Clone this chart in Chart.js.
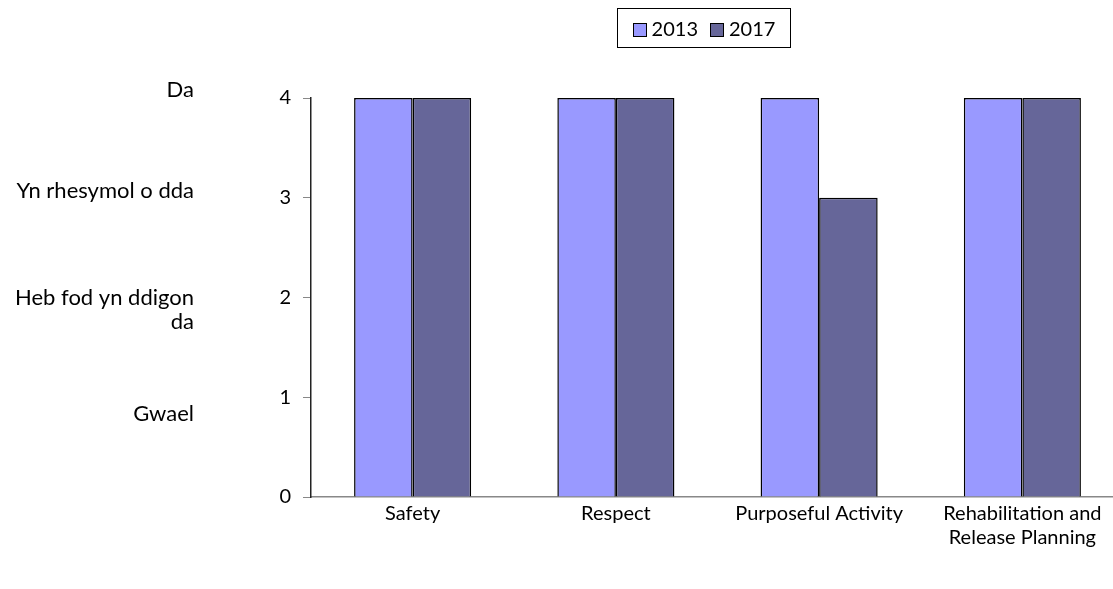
<!DOCTYPE html>
<html>
<head>
<meta charset="utf-8">
<script src="https://cdn.jsdelivr.net/npm/chart.js@4/dist/chart.umd.min.js"></script>
<style>
  body { margin: 0; overflow: hidden; background: #fff; font-family: Lato, sans-serif; }
  #wrap { position: relative; width: 1124px; height: 589px; }
  #legend { position: absolute; left: 617px; top: 8px; width: 172px; height: 38px; border: 1px solid #000;
    display: flex; align-items: center; justify-content: center; gap: 12px; font-size: 20px; color: #000; }
  #legend span.sw { display: inline-block; width: 12px; height: 12px; border: 1.5px solid #000; margin-right: 5px; vertical-align: -1px; }
</style>
</head>
<body>
<div id="wrap">
  <canvas id="chart"></canvas>
  <div id="legend"></div>
</div>
<script>
  // chart data
  const categories = ['Safety', 'Respect', 'Purposeful Activity', ['Rehabilitation and', 'Release Planning']];
  const years = ['2013', '2017'];
  const values2013 = [4, 4, 4, 4];
  const values2017 = [4, 4, 3, 4];
  const colours = ['#9999FF', '#666699'];

  // Welsh rating names shown to the left of the numeric axis
  const ratingNames = [['Da'], ['Yn rhesymol o dda'], ['Heb fod yn ddigon', 'da'], ['Gwael']];
  const ratingAt = [4.08, 3.07, 1.88, 0.83];

  const FONT = 'Lato, sans-serif';

  const ratingLabels = {
    id: 'ratingLabels',
    afterDraw(chart) {
      const ctx = chart.ctx;
      const y = chart.scales.y;
      ctx.save();
      ctx.font = '22px ' + FONT;
      ctx.fillStyle = '#000';
      ctx.textAlign = 'right';
      ctx.textBaseline = 'middle';
      ratingNames.forEach((lines, i) => {
        const mid = y.getPixelForValue(ratingAt[i]);
        const lh = 24;
        lines.forEach((txt, j) => {
          ctx.fillText(txt, 194, mid + (j - (lines.length - 1) / 2) * lh);
        });
      });
      ctx.restore();
    }
  };

  const legend = document.getElementById('legend');
  years.forEach((yr, i) => {
    const item = document.createElement('div');
    item.innerHTML = '<span class="sw" style="background:' + colours[i] + '"></span>' + yr;
    legend.appendChild(item);
  });

  new Chart(document.getElementById('chart'), {
    type: 'bar',
    data: {
      labels: categories,
      datasets: [
        { label: years[0], data: values2013, backgroundColor: colours[0], borderColor: '#000', borderWidth: 1.5 },
        { label: years[1], data: values2017, backgroundColor: colours[1], borderColor: '#000', borderWidth: 1.5 }
      ]
    },
    options: {
      responsive: true,
      maintainAspectRatio: false,
      animation: false,
      layout: { padding: { top: 98, left: 0, right: 0, bottom: 0 } },
      datasets: { bar: { categoryPercentage: 0.576, barPercentage: 1 } },
      plugins: { legend: { display: false }, tooltip: { enabled: false } },
      scales: {
        x: {
          afterFit: s => { s.height = 92; },
          grid: { display: true, drawOnChartArea: false, drawTicks: false },
          border: { color: '#888', width: 1.5 },
          ticks: { color: '#000', font: { family: FONT, size: 20, lineHeight: 1.2 }, padding: 5, maxRotation: 0, autoSkip: false }
        },
        y: {
          min: 0,
          max: 4,
          afterFit: s => { s.width = 311; },
          grid: { drawOnChartArea: false, tickLength: 8, color: '#888' },
          border: { color: '#222', width: 1.5 },
          ticks: { stepSize: 1, color: '#000', font: { family: FONT, size: 20 }, padding: 12 }
        }
      }
    },
    plugins: [ratingLabels]
  });
</script>
</body>
</html>
